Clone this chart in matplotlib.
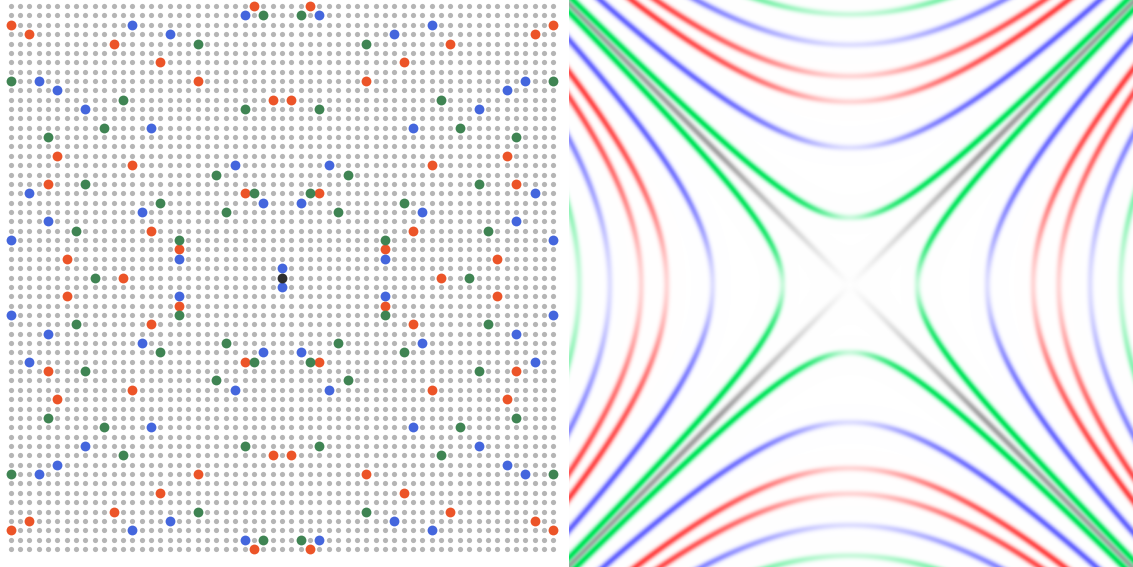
import numpy as np
import matplotlib
matplotlib.use("Agg")
import matplotlib.pyplot as plt

# left panel: 59 x 59 lattice, coordinates taken mod 59 and centred on 0
grid = np.arange(-29, 30)

# coloured lattice points
red_pts = [
    (3, 29), (-3, 29), (3, -29), (-3, -29),
    (29, 27), (-29, 27), (29, -27), (-29, -27),
    (27, 26), (-27, 26), (27, -26), (-27, -26),
    (18, 25), (-18, 25), (18, -25), (-18, -25),
    (13, 23), (-13, 23), (13, -23), (-13, -23),
    (9, 21), (-9, 21), (9, -21), (-9, -21),
    (1, 19), (-1, 19), (1, -19), (-1, -19),
    (24, 13), (-24, 13), (24, -13), (-24, -13),
    (16, 12), (-16, 12), (16, -12), (-16, -12),
    (25, 10), (-25, 10), (25, -10), (-25, -10),
    (4, 9), (-4, 9), (4, -9), (-4, -9),
    (14, 5), (-14, 5), (14, -5), (-14, -5),
    (11, 3), (-11, 3), (11, -3), (-11, -3),
    (23, 2), (-23, 2), (23, -2), (-23, -2),
    (17, 0), (-17, 0),
]
blue_pts = [
    (4, 28), (-4, 28), (4, -28), (-4, -28),
    (16, 27), (-16, 27), (16, -27), (-16, -27),
    (12, 26), (-12, 26), (12, -26), (-12, -26),
    (26, 21), (-26, 21), (26, -21), (-26, -21),
    (24, 20), (-24, 20), (24, -20), (-24, -20),
    (21, 18), (-21, 18), (21, -18), (-21, -18),
    (14, 16), (-14, 16), (14, -16), (-14, -16),
    (5, 12), (-5, 12), (5, -12), (-5, -12),
    (27, 9), (-27, 9), (27, -9), (-27, -9),
    (2, 8), (-2, 8), (2, -8), (-2, -8),
    (15, 7), (-15, 7), (15, -7), (-15, -7),
    (25, 6), (-25, 6), (25, -6), (-25, -6),
    (29, 4), (-29, 4), (29, -4), (-29, -4),
    (11, 2), (-11, 2), (11, -2), (-11, -2),
    (0, 1), (0, -1),
]
green_pts = [
    (2, 28), (-2, 28), (2, -28), (-2, -28),
    (9, 25), (-9, 25), (9, -25), (-9, -25),
    (29, 21), (-29, 21), (29, -21), (-29, -21),
    (17, 19), (-17, 19), (17, -19), (-17, -19),
    (4, 18), (-4, 18), (4, -18), (-4, -18),
    (19, 16), (-19, 16), (19, -16), (-19, -16),
    (25, 15), (-25, 15), (25, -15), (-25, -15),
    (7, 11), (-7, 11), (7, -11), (-7, -11),
    (21, 10), (-21, 10), (21, -10), (-21, -10),
    (3, 9), (-3, 9), (3, -9), (-3, -9),
    (13, 8), (-13, 8), (13, -8), (-13, -8),
    (6, 7), (-6, 7), (6, -7), (-6, -7),
    (22, 5), (-22, 5), (22, -5), (-22, -5),
    (11, 4), (-11, 4), (11, -4), (-11, -4),
    (20, 0), (-20, 0),
]
origin_pt = [(0, 0)]

# right panel: vertex distance of each hyperbola x^2 - y^2 = +-r^2 (lattice units)
green_r = [7.21, 28.95]
blue_r = [14.69, 25.69]
red_r = [19.6, 22.33]

fig = plt.figure(figsize=(11.33, 5.67), dpi=100)
px = 9.36  # pixels per lattice step

# ---- left: lattice
ax = fig.add_axes([0, 0, 564 / 1133, 1])
gx, gy = np.meshgrid(grid, grid)
ax.scatter(gx.ravel(), gy.ravel(), s=14, c="#b5b5b5", linewidths=0)
for pts, col in [(red_pts, "#ec5428"), (blue_pts, "#4466dd"),
                 (green_pts, "#3f8453"), (origin_pt, "#2e2e2e")]:
    xs, ys = zip(*pts)
    ax.scatter(xs, ys, s=50, c=col, linewidths=0, zorder=3)
ax.set_xlim(-282 / px, 282 / px)
ax.set_ylim(-(567 - 277.5) / px, 277.5 / px)
ax.axis("off")

# ---- right: continuous hyperbolas, rendered as an image
ax2 = fig.add_axes([569 / 1133, 0, 564 / 1133, 1])
x0, x1 = -(850 - 569) / px, (1133 - 850) / px
y0, y1 = -(567 - 285) / px, 285 / px
n = 900
U, V = np.meshgrid(np.linspace(x0, x1, n), np.linspace(y0, y1, n))
R = np.hypot(U, V) + 1e-9
spread = 2 * np.abs(U * V) / R**2
fade = 0.2 + 0.8 * spread**1.8
img = np.ones((n, n, 3))


def stroke(c, rgb, alpha, sigma=2.4):
    global img
    d = np.abs(U**2 - V**2 - c) / (2 * R) * px
    w = (np.exp(-0.5 * (d / sigma) ** 2) * alpha)[..., None]
    img = img * (1 - w) + np.array(rgb) / 255 * w


stroke(0, (125, 125, 125), np.clip(R / 20, 0, 1) * 0.7)
for radii, rgb in [(green_r, (0, 228, 90)), (blue_r, (100, 100, 255)), (red_r, (255, 60, 60))]:
    for r in radii:
        stroke(r**2, rgb, fade)
        stroke(-r**2, rgb, fade)

ax2.imshow(img, extent=(x0, x1, y0, y1), origin="lower", interpolation="bilinear", aspect="auto")
ax2.set_xlim(x0, x1)
ax2.set_ylim(y0, y1)
ax2.axis("off")

fig.savefig("out.png", dpi=100)
